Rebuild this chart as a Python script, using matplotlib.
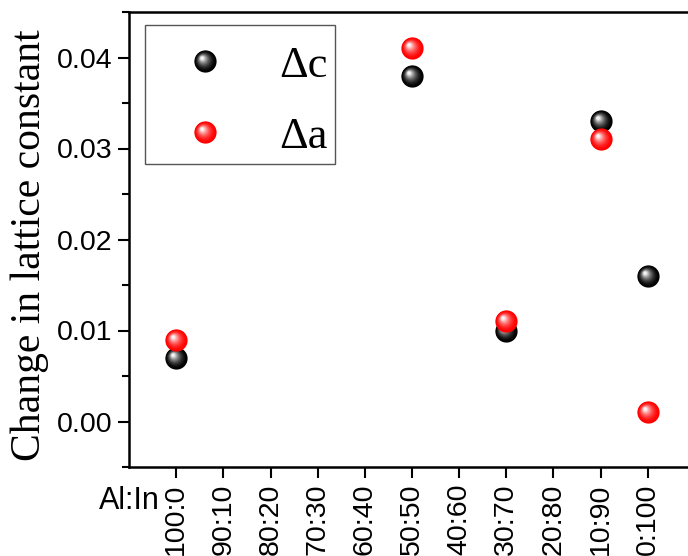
import numpy as np
import matplotlib
matplotlib.use("Agg")
import matplotlib.pyplot as plt
from matplotlib.path import Path
from matplotlib.lines import Line2D
from matplotlib.legend_handler import HandlerTuple
from matplotlib.patches import Rectangle
from matplotlib.colors import to_rgb

categories = ["100:0", "90:10", "80:20", "70:30", "60:40", "50:50",
              "40:60", "30:70", "20:80", "10:90", "0:100"]
sample_labels = ["100:0", "50:50", "30:70", "10:90", "0:100"]
delta_c = [0.007, 0.038, 0.010, 0.033, 0.016]
delta_a = [0.009, 0.041, 0.011, 0.031, 0.001]
y_ticks = [0.00, 0.01, 0.02, 0.03, 0.04]

plt.rcParams["font.family"] = ["Liberation Sans", "DejaVu Sans"]
SERIF = ["Liberation Serif", "DejaVu Serif"]

fig = plt.figure(figsize=(6.88, 5.56), dpi=100)
ax = fig.add_axes([129/688, 89/556, 566/688, 455/556])

xpos = [categories.index(s) for s in sample_labels]


def sphere_marker(t):
    r = 1 - 0.85 * t
    cx, cy = -0.30 * t, 0.30 * t
    th = np.linspace(0, 2*np.pi, 60)
    verts = np.column_stack([cx + r*np.cos(th), cy + r*np.sin(th)])
    codes = [Path.MOVETO] + [Path.LINETO]*(len(th)-2) + [Path.CLOSEPOLY]
    verts = np.vstack([verts, [[1, 1], [-1, -1]]])
    codes = codes + [Path.MOVETO, Path.MOVETO]
    return Path(verts, codes)


def sphere_layers(color, maxmix):
    base = np.array(to_rgb(color))
    layers = []
    n = 14
    for i in range(n):
        t = i / (n - 1)
        mix = maxmix * t**1.8
        c = base + (1 - base) * mix
        layers.append((sphere_marker(t), tuple(c)))
    return layers


MS = 16
series = [(delta_c, "black", 0.95, "\u0394c"), (delta_a, "#ff0000", 0.95, "\u0394a")]
handles = []
for vals, col, mm, lab in series:
    hs = []
    for mk, c in sphere_layers(col, mm):
        ax.plot(xpos, vals, linestyle="none", marker=mk, markersize=MS,
                markerfacecolor=c, markeredgecolor="none", zorder=3)
        hs.append(Line2D([], [], linestyle="none", marker=mk, markersize=MS,
                         markerfacecolor=c, markeredgecolor="none"))
    handles.append(tuple(hs))

ax.set_xlim(-1, 11)
ax.set_ylim(-0.005, 0.045)
ax.set_xticks(range(len(categories)))
ax.set_xticklabels(categories, rotation=90, fontsize=20.5)
ax.set_yticks(y_ticks)
ax.set_yticklabels([f"{v:.2f}" for v in y_ticks], fontsize=20.5)
ax.set_yticks(np.arange(-0.005, 0.0451, 0.01), minor=True)
ax.tick_params(axis="both", which="major", direction="out", length=8, width=1.5, pad=4)
ax.tick_params(axis="y", which="minor", direction="out", length=5, width=1.5)
for s in ["left", "bottom", "top"]:
    ax.spines[s].set_linewidth(1.8)
ax.spines["right"].set_visible(False)

ax.set_ylabel("Change in lattice constant", family=SERIF, fontsize=30)
ax.yaxis.set_label_coords(-0.142, 0.487)
ax.text(0.055, -0.075, "Al:In", transform=ax.transAxes, ha="right", va="center",
        fontsize=22)

# legend box
ax.add_patch(Rectangle((16/566, (467-164)/455), 190/566, 139/455,
                       transform=ax.transAxes, facecolor="white",
                       edgecolor="#555555", linewidth=1.0, zorder=4))
leg = ax.legend(handles, ["\u0394c", "\u0394a"],
                handler_map={tuple: HandlerTuple(ndivide=1, pad=0)},
                loc="upper left", bbox_to_anchor=(16/566, (467-39)/455),
                borderaxespad=0, prop={"family": SERIF, "size": 32},
                frameon=False, handlelength=2.4, handletextpad=0.48,
                labelspacing=0.7, borderpad=0.15)
leg.set_zorder(5)

fig.savefig("out.png", dpi=100)
